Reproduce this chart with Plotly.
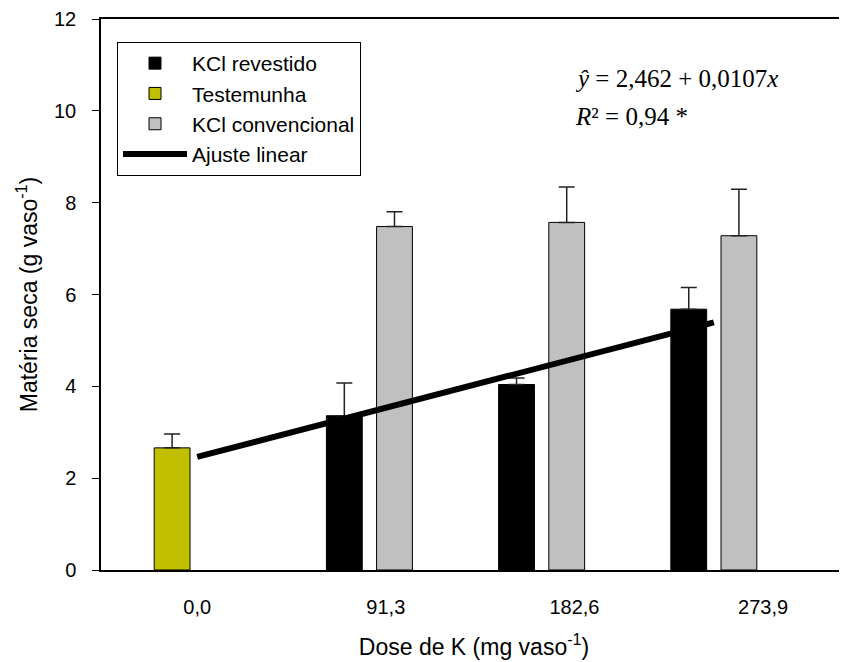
import plotly.graph_objects as go

# ---- data ----
doses = [91.3, 182.6, 273.9]
kcl_revestido = [3.36, 4.04, 5.68]
kcl_revestido_err = [0.71, 0.14, 0.47]
kcl_convencional = [7.48, 7.57, 7.28]
kcl_convencional_err = [0.32, 0.77, 1.01]
testemunha_dose = [0.0]
testemunha = [2.66]
testemunha_err = [0.30]
fit_intercept = 2.462
fit_slope = 0.0107
fit_x = [0.0, 273.9]
tick_positions = [0, 100, 200, 300]
tick_labels = ["0,0", "91,3", "182,6", "273,9"]

fit_y = [fit_intercept + fit_slope * v for v in fit_x]

BAR_W = 19.0
OFF_L = -13.3 - BAR_W / 2
OFF_R = 13.3 - BAR_W / 2

# page has an 8px body margin; compensate
PX = 8
W, H = 847 - PX, 662 - PX
L, T, B = 101 - PX, 19 - PX, 92
PW = W - L
PH = H - T - B


def px_x(x):
    return (x - PX - L) / PW


def px_y(y):
    return (H - B - (y - PX)) / PH


err_style = dict(type="data", symmetric=False, color="#222222", thickness=1.5, width=8)

fig = go.Figure()
fig.add_trace(go.Bar(
    x=doses, y=kcl_revestido, name="KCl revestido",
    width=BAR_W, offset=OFF_L,
    marker=dict(color="black", line=dict(color="black", width=1)),
    error_y=dict(array=kcl_revestido_err, arrayminus=[0] * 3, **err_style),
))
fig.add_trace(go.Bar(
    x=testemunha_dose, y=testemunha, name="Testemunha",
    width=BAR_W, offset=OFF_L,
    marker=dict(color="#C0C000", line=dict(color="black", width=1)),
    error_y=dict(array=testemunha_err, arrayminus=[0], **err_style),
))
fig.add_trace(go.Bar(
    x=doses, y=kcl_convencional, name="KCl convencional",
    width=BAR_W, offset=OFF_R,
    marker=dict(color="#C0C0C0", line=dict(color="black", width=1)),
    error_y=dict(array=kcl_convencional_err, arrayminus=[0] * 3, **err_style),
))
fig.add_trace(go.Scatter(
    x=fit_x, y=fit_y, mode="lines", name="Ajuste linear",
    line=dict(color="black", width=6),
))

fig.update_layout(
    width=W, height=H,
    margin=dict(l=L, r=0, t=T, b=B),
    plot_bgcolor="white", paper_bgcolor="white",
    barmode="overlay",
    font=dict(family="Liberation Sans, Arial", color="black", size=21),
    showlegend=True,
    legend=dict(
        x=px_x(117), y=px_y(42), xanchor="left", yanchor="top",
        bordercolor="black", borderwidth=1, bgcolor="white",
        font=dict(size=21), tracegroupgap=0,
        itemwidth=64, entrywidth=250, entrywidthmode="pixels",
    ),
    annotations=[
        dict(text="<i>ŷ</i> = 2,462 + 0,0107<i>x</i>", xref="paper", yref="paper",
             x=px_x(573), y=px_y(78), xanchor="left", yanchor="middle",
             showarrow=False, font=dict(family="Liberation Serif, Times New Roman", size=25)),
        dict(text="<i>R</i>² = 0,94 *", xref="paper", yref="paper",
             x=px_x(573), y=px_y(116), xanchor="left", yanchor="middle",
             showarrow=False, font=dict(family="Liberation Serif, Times New Roman", size=25)),
    ],
)
fig.update_xaxes(
    range=[-51, 344.5], showline=True, linecolor="black", linewidth=2, mirror=True,
    tickvals=tick_positions, ticktext=tick_labels,
    ticks="outside", ticklen=18, tickcolor="rgba(0,0,0,0)",
    tickfont=dict(size=20),
    showgrid=False, zeroline=False,
    title=dict(text="Dose de K (mg vaso<sup>-1</sup>)", font=dict(size=23), standoff=22),
)
fig.update_yaxes(
    range=[0, 12], showline=True, linecolor="black", linewidth=1.5,
    tickvals=[0, 2, 4, 6, 8, 10, 12], ticks="outside", ticklen=7, tickcolor="black",
    ticklabelstandoff=12, tickfont=dict(size=20),
    showgrid=False, zeroline=False,
    title=dict(text="Matéria seca (g vaso<sup>-1</sup>)", font=dict(size=23), standoff=10),
)

fig.write_html("out.html")
